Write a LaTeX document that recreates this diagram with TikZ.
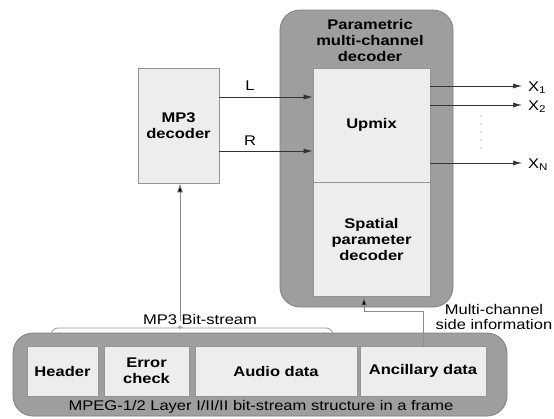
\documentclass[tikz,border=0pt]{standalone}
\usepackage{fontspec}
\setmainfont[FakeStretch=1.18]{Liberation Sans}
\usetikzlibrary{arrows.meta}

\begin{document}
\begin{tikzpicture}[x=1pt,y=-1pt,
  outerbox/.style={draw=black!50, fill=black!38, rounded corners=20pt, line width=0.8pt},
  innerbox/.style={draw=black!42, fill=black!7, line width=0.8pt, align=center,
    font=\fontsize{14}{16}\selectfont\bfseries, inner sep=0pt},
  sig/.style={draw=black!80, line width=0.7pt, -{Latex[length=9pt,width=5pt]}},
  feed/.style={draw=black!45, line width=0.7pt, -{Latex[length=9pt,width=6pt,fill=black]}},
  bracepath/.style={draw=black!40, line width=0.7pt},
  lbl/.style={font=\fontsize{14}{15}\selectfont, inner sep=0pt, align=center}]

\useasboundingbox[fill=white] (0,0) rectangle (554,418);

% containers
\node[outerbox, minimum width=173pt, minimum height=297pt] (pmcd) at (366.5,158.5) {};
\node[outerbox, minimum width=494pt, minimum height=83pt] (frame) at (260,374.5) {};

% decoder blocks
\node[innerbox, minimum width=81pt, minimum height=115pt] (mp3) at (178.5,125.5) {MP3\\decoder};
\node[innerbox, minimum width=117pt, minimum height=114pt] (upmix) at (371.5,125) {Upmix};
\node[innerbox, minimum width=117pt, minimum height=114pt] (spatial) at (371.5,239) {Spatial\\parameter\\decoder};
\node[font=\fontsize{14}{16}\selectfont\bfseries, align=center, inner sep=0pt] (ptitle) at (370,40) {Parametric\\multi-channel\\decoder};

% frame fields
\node[innerbox, minimum width=71pt, minimum height=50pt] (header) at (62.5,371) {Header};
\node[innerbox, minimum width=85pt, minimum height=50pt] (error) at (146.5,371) {Error\\check};
\node[innerbox, minimum width=162pt, minimum height=50pt] (audio) at (276,371) {Audio data};
\node[innerbox, minimum width=126pt, minimum height=50pt] (anc) at (423,371) {Ancillary data};
\node[lbl] (framelbl) at (261,407) {MPEG-1/2 Layer I/II/II bit-stream structure in a frame};

% stereo downmix into the upmix stage
\coordinate (lrow) at (0,97);
\coordinate (rrow) at (0,151);
\draw[sig] (mp3.east |- lrow) -- (upmix.west |- lrow);
\draw[sig] (mp3.east |- rrow) -- (upmix.west |- rrow);
\node[lbl] (llbl) at (250,86) {L};
\node[lbl] (rlbl) at (250,141) {R};

% output channels
\coordinate (o1) at (522,86);
\coordinate (o2) at (522,105);
\coordinate (on) at (522,163);
\draw[sig] (upmix.east |- o1) -- (o1);
\draw[sig] (upmix.east |- o2) -- (o2);
\draw[sig] (upmix.east |- on) -- (on);
\node[lbl, anchor=west] (x1) at (528,88) {X\textsubscript{1}};
\node[lbl, anchor=west] (x2) at (528,107) {X\textsubscript{2}};
\node[lbl, anchor=west] (xn) at (528,165) {X\textsubscript{N}};
\foreach \yy in {116,124,132,140,148}
  \fill[black!50] (481,\yy) circle (0.6pt);

% MP3 bit-stream brace and feed
\coordinate (btip) at (180,321);
\draw[bracepath, rounded corners=7pt] (51,346) |- (172,328)
  to[out=0,in=-90] (btip) to[out=-90,in=180] ([xshift=8pt]btip |- 0,328) -| (333,346);
\node[lbl] (bslbl) at (200,319) {MP3 Bit-stream};
\draw[feed] (btip) -- (btip |- mp3.south);

% side information feed
\coordinate (sbend) at (364,311);
\draw[feed] (anc.north) |- (sbend) -- (sbend |- spatial.south);
\node[lbl] (sidelbl) at (494,316.5) {Multi-channel\\side information};
\end{tikzpicture}
\end{document}
